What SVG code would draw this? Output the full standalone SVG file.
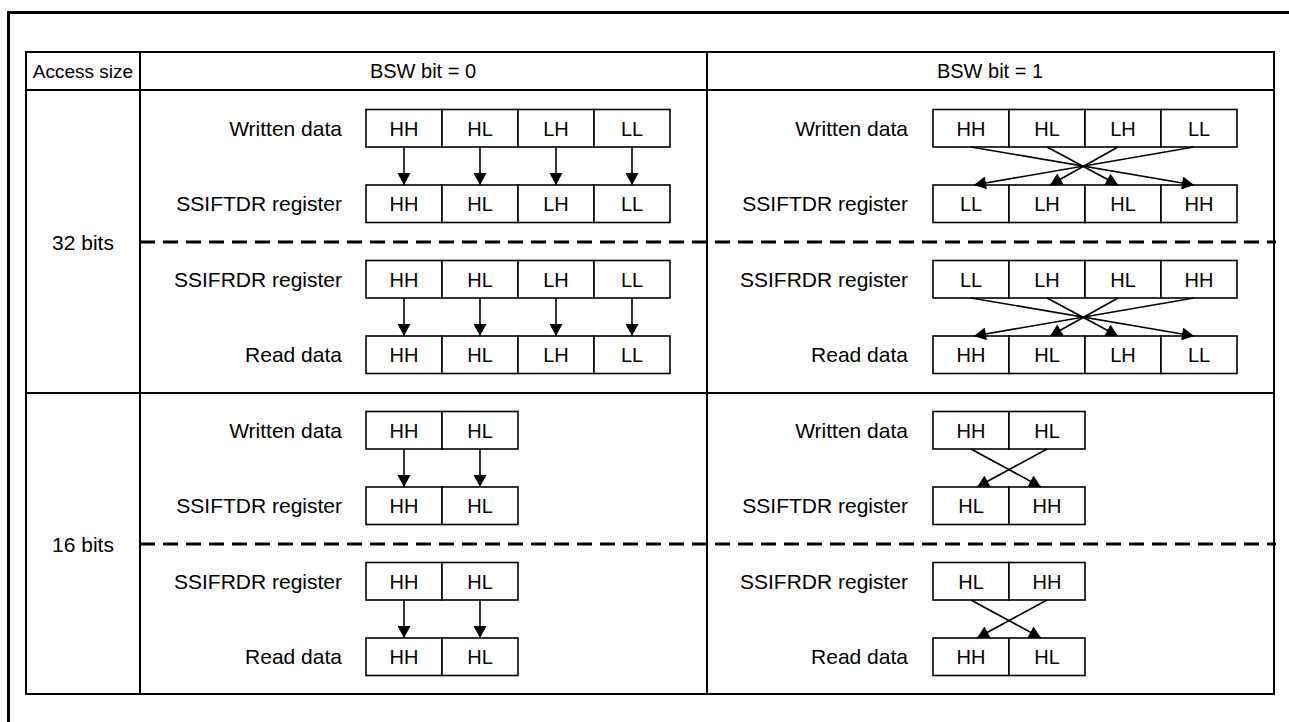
<svg xmlns="http://www.w3.org/2000/svg" width="1289" height="722" viewBox="0 0 1289 722">
<style>
text{font-family:"Liberation Sans",Arial,sans-serif;fill:#000}
.lbl{font-size:21px;text-anchor:end}
.cell{font-size:20px;text-anchor:middle}
.hdr{font-size:20px;text-anchor:middle}
.box{fill:#fff;stroke:#000;stroke-width:1.6}
.grid{fill:none;stroke:#000;stroke-width:2}
.dash{fill:none;stroke:#000;stroke-width:3;stroke-dasharray:15 8}
.conn{fill:none;stroke:#000;stroke-width:1.6;marker-end:url(#ah)}
</style>
<defs>
<marker id="ah" markerUnits="userSpaceOnUse" markerWidth="13" markerHeight="13" viewBox="0 0 12 13" refX="12" refY="6.5" orient="auto">
<path d="M0,0 L12,6.5 L0,13 z" fill="#000"/>
</marker>
</defs>
<rect width="1289" height="722" fill="#fff"/>
<path d="M8.5 722 V12.5 H1289" fill="none" stroke="#000" stroke-width="3"/>
<g id="table">
<rect class="grid" x="26" y="52" width="1248" height="642"/>
<line class="grid" x1="26" y1="90" x2="1274" y2="90"/>
<line class="grid" x1="140" y1="52" x2="140" y2="694"/>
<line class="grid" x1="707" y1="52" x2="707" y2="694"/>
<line class="grid" x1="26" y1="393" x2="1274" y2="393"/>
<line class="dash" x1="140" y1="242" x2="1276" y2="242"/>
<line class="dash" x1="140" y1="544" x2="1276" y2="544"/>
<text class="hdr" x="83" y="78" style="font-size:19px">Access size</text>
<text class="hdr" x="423" y="78">BSW bit = 0</text>
<text class="hdr" x="990" y="78">BSW bit = 1</text>
<text class="hdr" x="83" y="250" style="font-size:21px">32 bits</text>
<text class="hdr" x="83" y="552" style="font-size:21px">16 bits</text>
</g>
<g id="l32-write">
<text class="lbl" x="342" y="136">Written data</text>
<rect class="box" x="366" y="109.5" width="76" height="37.5"/><rect class="box" x="442" y="109.5" width="76" height="37.5"/><rect class="box" x="518" y="109.5" width="76" height="37.5"/><rect class="box" x="594" y="109.5" width="76" height="37.5"/>
<text class="cell" x="404" y="135.5">HH</text><text class="cell" x="480" y="135.5">HL</text><text class="cell" x="556" y="135.5">LH</text><text class="cell" x="632" y="135.5">LL</text>
</g>
<g id="l32-tdr">
<text class="lbl" x="342" y="211">SSIFTDR register</text>
<rect class="box" x="366" y="185" width="76" height="37.5"/><rect class="box" x="442" y="185" width="76" height="37.5"/><rect class="box" x="518" y="185" width="76" height="37.5"/><rect class="box" x="594" y="185" width="76" height="37.5"/>
<text class="cell" x="404" y="211">HH</text><text class="cell" x="480" y="211">HL</text><text class="cell" x="556" y="211">LH</text><text class="cell" x="632" y="211">LL</text>
</g>
<g id="l32-rdr">
<text class="lbl" x="342" y="287">SSIFRDR register</text>
<rect class="box" x="366" y="260.5" width="76" height="37.5"/><rect class="box" x="442" y="260.5" width="76" height="37.5"/><rect class="box" x="518" y="260.5" width="76" height="37.5"/><rect class="box" x="594" y="260.5" width="76" height="37.5"/>
<text class="cell" x="404" y="286.5">HH</text><text class="cell" x="480" y="286.5">HL</text><text class="cell" x="556" y="286.5">LH</text><text class="cell" x="632" y="286.5">LL</text>
</g>
<g id="l32-read">
<text class="lbl" x="342" y="362">Read data</text>
<rect class="box" x="366" y="336" width="76" height="37.5"/><rect class="box" x="442" y="336" width="76" height="37.5"/><rect class="box" x="518" y="336" width="76" height="37.5"/><rect class="box" x="594" y="336" width="76" height="37.5"/>
<text class="cell" x="404" y="362">HH</text><text class="cell" x="480" y="362">HL</text><text class="cell" x="556" y="362">LH</text><text class="cell" x="632" y="362">LL</text>
</g>
<g id="r32-write">
<text class="lbl" x="908" y="136">Written data</text>
<rect class="box" x="933" y="109.5" width="76" height="37.5"/><rect class="box" x="1009" y="109.5" width="76" height="37.5"/><rect class="box" x="1085" y="109.5" width="76" height="37.5"/><rect class="box" x="1161" y="109.5" width="76" height="37.5"/>
<text class="cell" x="971" y="135.5">HH</text><text class="cell" x="1047" y="135.5">HL</text><text class="cell" x="1123" y="135.5">LH</text><text class="cell" x="1199" y="135.5">LL</text>
</g>
<g id="r32-tdr">
<text class="lbl" x="908" y="211">SSIFTDR register</text>
<rect class="box" x="933" y="185" width="76" height="37.5"/><rect class="box" x="1009" y="185" width="76" height="37.5"/><rect class="box" x="1085" y="185" width="76" height="37.5"/><rect class="box" x="1161" y="185" width="76" height="37.5"/>
<text class="cell" x="971" y="211">LL</text><text class="cell" x="1047" y="211">LH</text><text class="cell" x="1123" y="211">HL</text><text class="cell" x="1199" y="211">HH</text>
</g>
<g id="r32-rdr">
<text class="lbl" x="908" y="287">SSIFRDR register</text>
<rect class="box" x="933" y="260.5" width="76" height="37.5"/><rect class="box" x="1009" y="260.5" width="76" height="37.5"/><rect class="box" x="1085" y="260.5" width="76" height="37.5"/><rect class="box" x="1161" y="260.5" width="76" height="37.5"/>
<text class="cell" x="971" y="286.5">LL</text><text class="cell" x="1047" y="286.5">LH</text><text class="cell" x="1123" y="286.5">HL</text><text class="cell" x="1199" y="286.5">HH</text>
</g>
<g id="r32-read">
<text class="lbl" x="908" y="362">Read data</text>
<rect class="box" x="933" y="336" width="76" height="37.5"/><rect class="box" x="1009" y="336" width="76" height="37.5"/><rect class="box" x="1085" y="336" width="76" height="37.5"/><rect class="box" x="1161" y="336" width="76" height="37.5"/>
<text class="cell" x="971" y="362">HH</text><text class="cell" x="1047" y="362">HL</text><text class="cell" x="1123" y="362">LH</text><text class="cell" x="1199" y="362">LL</text>
</g>
<g id="l16-write">
<text class="lbl" x="342" y="438">Written data</text>
<rect class="box" x="366" y="411.5" width="76" height="37.5"/><rect class="box" x="442" y="411.5" width="76" height="37.5"/>
<text class="cell" x="404" y="437.5">HH</text><text class="cell" x="480" y="437.5">HL</text>
</g>
<g id="l16-tdr">
<text class="lbl" x="342" y="513">SSIFTDR register</text>
<rect class="box" x="366" y="487" width="76" height="37.5"/><rect class="box" x="442" y="487" width="76" height="37.5"/>
<text class="cell" x="404" y="513">HH</text><text class="cell" x="480" y="513">HL</text>
</g>
<g id="l16-rdr">
<text class="lbl" x="342" y="589">SSIFRDR register</text>
<rect class="box" x="366" y="562.5" width="76" height="37.5"/><rect class="box" x="442" y="562.5" width="76" height="37.5"/>
<text class="cell" x="404" y="588.5">HH</text><text class="cell" x="480" y="588.5">HL</text>
</g>
<g id="l16-read">
<text class="lbl" x="342" y="664">Read data</text>
<rect class="box" x="366" y="638" width="76" height="37.5"/><rect class="box" x="442" y="638" width="76" height="37.5"/>
<text class="cell" x="404" y="664">HH</text><text class="cell" x="480" y="664">HL</text>
</g>
<g id="r16-write">
<text class="lbl" x="908" y="438">Written data</text>
<rect class="box" x="933" y="411.5" width="76" height="37.5"/><rect class="box" x="1009" y="411.5" width="76" height="37.5"/>
<text class="cell" x="971" y="437.5">HH</text><text class="cell" x="1047" y="437.5">HL</text>
</g>
<g id="r16-tdr">
<text class="lbl" x="908" y="513">SSIFTDR register</text>
<rect class="box" x="933" y="487" width="76" height="37.5"/><rect class="box" x="1009" y="487" width="76" height="37.5"/>
<text class="cell" x="971" y="513">HL</text><text class="cell" x="1047" y="513">HH</text>
</g>
<g id="r16-rdr">
<text class="lbl" x="908" y="589">SSIFRDR register</text>
<rect class="box" x="933" y="562.5" width="76" height="37.5"/><rect class="box" x="1009" y="562.5" width="76" height="37.5"/>
<text class="cell" x="971" y="588.5">HL</text><text class="cell" x="1047" y="588.5">HH</text>
</g>
<g id="r16-read">
<text class="lbl" x="908" y="664">Read data</text>
<rect class="box" x="933" y="638" width="76" height="37.5"/><rect class="box" x="1009" y="638" width="76" height="37.5"/>
<text class="cell" x="971" y="664">HH</text><text class="cell" x="1047" y="664">HL</text>
</g>
<g id="connectors">
<line class="conn" x1="404" y1="147" x2="404" y2="185"/>
<line class="conn" x1="480" y1="147" x2="480" y2="185"/>
<line class="conn" x1="556" y1="147" x2="556" y2="185"/>
<line class="conn" x1="632" y1="147" x2="632" y2="185"/>
<line class="conn" x1="404" y1="298" x2="404" y2="336"/>
<line class="conn" x1="480" y1="298" x2="480" y2="336"/>
<line class="conn" x1="556" y1="298" x2="556" y2="336"/>
<line class="conn" x1="632" y1="298" x2="632" y2="336"/>
<line class="conn" x1="404" y1="449" x2="404" y2="487"/>
<line class="conn" x1="480" y1="449" x2="480" y2="487"/>
<line class="conn" x1="404" y1="600" x2="404" y2="638"/>
<line class="conn" x1="480" y1="600" x2="480" y2="638"/>
<line class="conn" x1="971" y1="147" x2="1194" y2="185"/>
<line class="conn" x1="1047" y1="147" x2="1118" y2="185"/>
<line class="conn" x1="1118" y1="147" x2="1050" y2="185"/>
<line class="conn" x1="1194" y1="147" x2="974" y2="185"/>
<line class="conn" x1="971" y1="298" x2="1194" y2="336"/>
<line class="conn" x1="1047" y1="298" x2="1118" y2="336"/>
<line class="conn" x1="1118" y1="298" x2="1050" y2="336"/>
<line class="conn" x1="1194" y1="298" x2="974" y2="336"/>
<line class="conn" x1="971" y1="449" x2="1041" y2="487"/>
<line class="conn" x1="1047" y1="449" x2="977" y2="487"/>
<line class="conn" x1="971" y1="600" x2="1041" y2="638"/>
<line class="conn" x1="1047" y1="600" x2="977" y2="638"/>
</g>
</svg>
